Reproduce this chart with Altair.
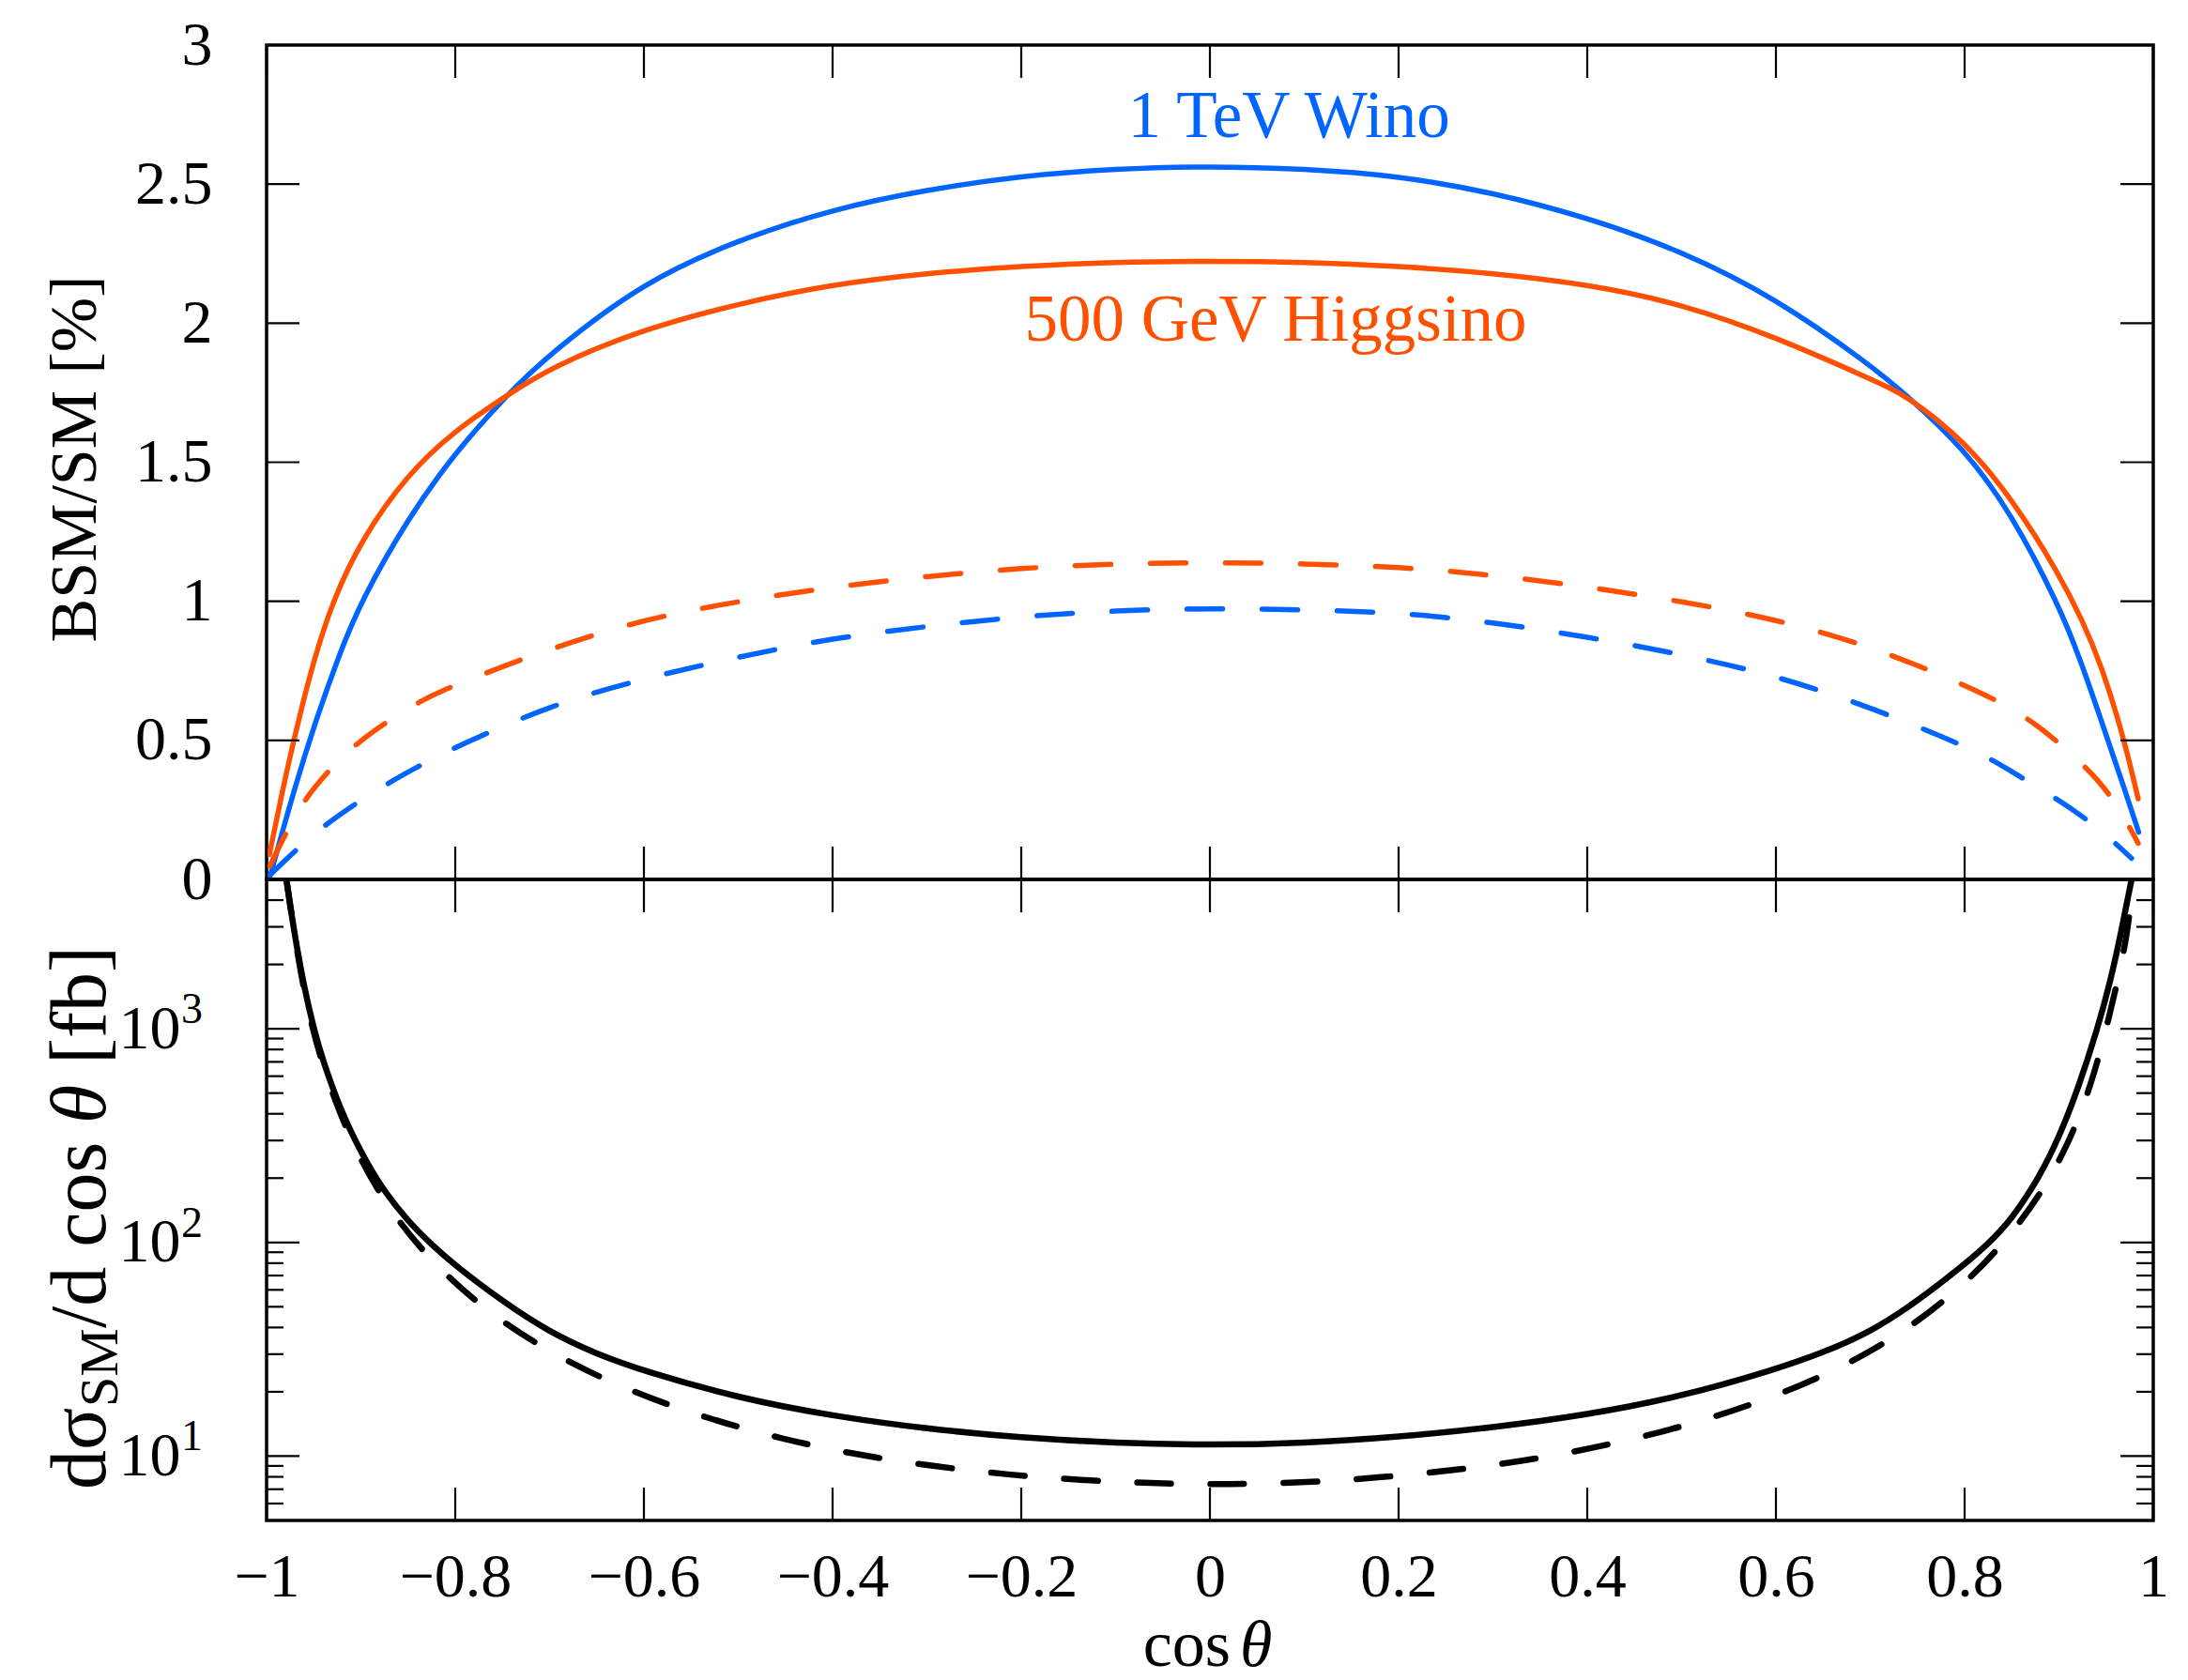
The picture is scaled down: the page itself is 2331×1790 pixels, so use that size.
import altair as alt
import pandas as pd

# ---------------- data ----------------
# top panel: BSM/SM [%]
wino_x = [-0.996, -0.985, -0.97, -0.951, -0.923, -0.9, -0.85, -0.8, -0.747, -0.7, -0.6, -0.5, -0.4,
          -0.3, -0.2, -0.1, 0.0, 0.1, 0.2, 0.3, 0.4, 0.5, 0.6, 0.7, 0.739, 0.8, 0.85, 0.9, 0.9224, 0.95,
          0.97, 0.9845]
wino_y = [0.015, 0.15, 0.33, 0.54, 0.81, 1.00, 1.30, 1.535, 1.736, 1.89, 2.15, 2.30, 2.41,
          2.48, 2.53, 2.555, 2.565, 2.555, 2.53, 2.47, 2.38, 2.26, 2.09, 1.85, 1.74, 1.547, 1.314, 0.985, 0.794,
          0.52, 0.32, 0.17]

higgs_x = [-0.997, -0.985, -0.97, -0.95, -0.93, -0.9, -0.85, -0.8, -0.747, -0.7, -0.6, -0.5, -0.4,
           -0.3, -0.2, -0.1, 0.0, 0.1, 0.2, 0.3, 0.4, 0.5, 0.6, 0.7, 0.739, 0.8, 0.85, 0.9, 0.925, 0.945,
           0.968, 0.984]
higgs_y = [0.09, 0.29, 0.52, 0.79, 1.00, 1.22, 1.46, 1.615, 1.736, 1.84, 1.98, 2.07, 2.14,
           2.18, 2.205, 2.22, 2.223, 2.22, 2.205, 2.18, 2.14, 2.07, 1.95, 1.80, 1.74, 1.576, 1.37, 1.10, 0.93,
           0.77, 0.52, 0.29]

wino_d_x = [-0.9966, -0.966, -0.935, -0.901, -0.866, -0.83, -0.8, -0.7, -0.6, -0.5, -0.4, -0.3, -0.2, -0.1,
            0.0, 0.1, 0.2, 0.3, 0.4, 0.5, 0.6, 0.7, 0.8, 0.829, 0.844, 0.878, 0.914, 0.946, 0.977]
wino_d_y = [0.015, 0.116, 0.204, 0.283, 0.357, 0.423, 0.475, 0.626, 0.723, 0.80, 0.868, 0.91, 0.946, 0.967,
            0.975, 0.97, 0.96, 0.925, 0.872, 0.81, 0.733, 0.62, 0.48, 0.43, 0.40, 0.331, 0.254, 0.173, 0.076]

higgs_d_x = [-0.9966, -0.978, -0.958, -0.931, -0.902, -0.867, -0.833, -0.8, -0.7, -0.6, -0.5, -0.4, -0.3,
             -0.2, -0.1, 0.0, 0.1, 0.2, 0.3, 0.4, 0.5, 0.6, 0.7, 0.8, 0.847, 0.881, 0.911, 0.942, 0.965, 0.984]
higgs_d_y = [0.048, 0.178, 0.297, 0.404, 0.497, 0.579, 0.649, 0.70, 0.83, 0.936, 1.00, 1.052, 1.09,
             1.12, 1.135, 1.14, 1.135, 1.124, 1.095, 1.052, 1.00, 0.936, 0.84, 0.70, 0.622, 0.545, 0.458, 0.359,
             0.25, 0.13]

# bottom panel: d sigma_SM / d cos theta [fb]
sm_x = [-0.979, -0.97, -0.96, -0.95, -0.94, -0.92, -0.9, -0.88, -0.85, -0.822, -0.8, -0.75, -0.7, -0.65,
        -0.6, -0.5, -0.4, -0.3, -0.2, -0.1, 0.0, 0.1, 0.2, 0.3, 0.4, 0.5, 0.6, 0.65, 0.7, 0.75, 0.8,
        0.8235, 0.85, 0.88, 0.9, 0.92, 0.941, 0.955, 0.965, 0.977]
sm_y = [5000, 2700, 1550, 1000, 700, 400, 265, 185, 125, 95, 78, 53, 38, 30,
        25, 18.7, 15.4, 13.4, 12.2, 11.5, 11.25, 11.5, 12.3, 13.6, 15.6, 19.0, 25.5, 30.5, 38, 53, 79,
        97, 128, 205, 310, 520, 1000, 1700, 2700, 5000]

sm_d_x = [-0.979, -0.961, -0.94, -0.9105, -0.871, -0.819, -0.757, -0.687, -0.613, -0.535, -0.456, -0.378,
          -0.295, -0.214, -0.133, -0.051, 0.0, 0.031, 0.114, 0.196, 0.278, 0.358, 0.439, 0.518, 0.595, 0.671,
          0.742, 0.806, 0.861, 0.905, 0.935, 0.956, 0.972, 0.979]
sm_d_y = [5000, 1442, 645, 293, 142, 75.5, 44, 28.4, 20, 15.1, 12.1, 10.2,
          8.98, 8.17, 7.7, 7.43, 7.4, 7.4, 7.55, 8.05, 8.77, 9.9, 11.7, 14.4, 18.7, 26,
          39.6, 66.8, 124, 252, 546, 1270, 2600, 5000]

x_tick_values = [-1, -0.8, -0.6, -0.4, -0.2, 0, 0.2, 0.4, 0.6, 0.8, 1]
top_y_ticks = [0, 0.5, 1, 1.5, 2, 2.5, 3]
log_major = [10, 100, 1000]
log_exponents = ["1", "2", "3"]
log_minor = [6, 7, 8, 9, 20, 30, 40, 50, 60, 70, 80, 90, 200, 300, 400, 500, 600, 700, 800, 900,
             2000, 3000, 4000]

annotations = pd.DataFrame({
    "x": [0.0836, 0.0697],
    "y": [2.669, 1.937],
    "label": ["1 TeV Wino", "500 GeV Higgsino"],
    "who": ["wino", "higgs"],
})

# ---------------- styling ----------------
W, HT, HB = 2010, 889, 683
FONT = "Liberation Serif"
BLUE, ORANGE = "#0064ff", "#ff5000"
TICK_MAJ, TICK_MIN = 35, 18


def df(xs, ys):
    return pd.DataFrame({"x": xs, "y": ys})


xscale = alt.Scale(domain=[-1, 1], nice=False, zero=False)
yscale_top = alt.Scale(domain=[0, 3], nice=False, zero=False)
yscale_bot = alt.Scale(type="log", domain=[5, 5000], nice=False)

top_y_axis = alt.Axis(values=top_y_ticks, format="~g", labelPadding=58)
XT = alt.X("x:Q", scale=xscale, axis=None)
YT = alt.Y("y:Q", scale=yscale_top, axis=top_y_axis)

SUP_GAP = 92  # distance from the axis to the right edge of the "10" mantissa
bot_y_axis = alt.Axis(values=log_major, labelExpr="'10'", labelPadding=SUP_GAP)
bot_x_axis = alt.Axis(values=x_tick_values, format="~g", labelPadding=28, labelFlush=False)
XB = alt.X("x:Q", scale=xscale, axis=bot_x_axis)
YB = alt.Y("y:Q", scale=yscale_bot, axis=bot_y_axis)


def curve(data, color, width, dash=None, X=XT, Y=YT):
    kw = dict(color=color, strokeWidth=width, interpolate="basis", clip=True, strokeCap="round")
    if dash:
        kw["strokeDash"] = dash
    return alt.Chart(data).mark_line(**kw).encode(x=X, y=Y)


def xticks(X, H):
    d = pd.DataFrame({"x": x_tick_values})
    up = alt.Chart(d).mark_rule(color="black", strokeWidth=2.2).encode(
        x=X, y=alt.value(0), y2=alt.value(TICK_MAJ))
    dn = alt.Chart(d).mark_rule(color="black", strokeWidth=2.2).encode(
        x=X, y=alt.value(H - TICK_MAJ), y2=alt.value(H))
    return [up, dn]


def yticks(vals, Y, length):
    d = pd.DataFrame({"y": vals})
    lft = alt.Chart(d).mark_rule(color="black", strokeWidth=2.2).encode(
        y=Y, x=alt.value(0), x2=alt.value(length))
    rgt = alt.Chart(d).mark_rule(color="black", strokeWidth=2.2).encode(
        y=Y, x=alt.value(W - length), x2=alt.value(W))
    return [lft, rgt]


def rotated(text, size, x, y, style="normal"):
    # text reads bottom-to-top, starting at (x, y)
    return alt.Chart(pd.DataFrame({"t": [text]})).mark_text(
        font=FONT, fontSize=size, angle=270, align="left", baseline="alphabetic", color="black",
        fontStyle=style
    ).encode(x=alt.value(x), y=alt.value(y), text="t:N")


# ---------------- top panel ----------------
ann = alt.Chart(annotations).mark_text(font=FONT, fontSize=71, baseline="alphabetic", align="center").encode(
    x=XT, y=YT, text="label:N",
    color=alt.Color("who:N", scale=alt.Scale(domain=["wino", "higgs"], range=[BLUE, ORANGE]), legend=None),
)

top_title = alt.Chart(pd.DataFrame({"t": ["BSM/SM [%]"]})).mark_text(
    font=FONT, fontSize=70, angle=270, align="center", baseline="middle", color="black"
).encode(x=alt.value(-203), y=alt.value(441), text="t:N")

top = alt.layer(
    curve(df(wino_x, wino_y), BLUE, 5.5),
    curve(df(higgs_x, higgs_y), ORANGE, 5.5),
    curve(df(wino_d_x, wino_d_y), BLUE, 5.5, [38, 42]),
    curve(df(higgs_d_x, higgs_d_y), ORANGE, 5.5, [38, 42]),
    *xticks(XT, HT),
    *yticks(top_y_ticks, YT, TICK_MAJ),
    ann,
    top_title,
).properties(width=W, height=HT)

# ---------------- bottom panel ----------------
FS, FSUB = 84, 58
BASE_X = -172
bot_title = [
    rotated("dσ", FS, BASE_X, 650),
    rotated("SM", FSUB, BASE_X + 13, 562),
    rotated("/d cos", FS, BASE_X, 478),
    rotated("θ", FS, BASE_X, 260, "italic"),
    rotated("[fb]", FS, BASE_X, 197),
]

# exponent of the log-axis labels (10^1, 10^2, 10^3)
sup = alt.Chart(pd.DataFrame({"y": log_major, "e": log_exponents})).mark_text(
    font=FONT, fontSize=46, align="left", baseline="alphabetic", color="black", dy=-6
).encode(x=alt.value(-SUP_GAP + 1), y=YB, text="e:N")

XT_BASE = HB + 155
xtitle = [
    alt.Chart(pd.DataFrame({"t": ["cos"]})).mark_text(font=FONT, fontSize=70, align="right", baseline="alphabetic",
                                                      color="black").encode(
        x=alt.value(1027), y=alt.value(XT_BASE), text="t:N"),
    alt.Chart(pd.DataFrame({"t": ["θ"]})).mark_text(font=FONT, fontSize=70, align="left", baseline="alphabetic",
                                                    fontStyle="italic", color="black").encode(
        x=alt.value(1037), y=alt.value(XT_BASE), text="t:N"),
]

bottom = alt.layer(
    curve(df(sm_x, sm_y), "black", 6.5, None, XB, YB),
    curve(df(sm_d_x, sm_d_y), "black", 6.5, [36, 42], XB, YB),
    *xticks(XB, HB),
    *yticks(log_major, YB, TICK_MAJ),
    *yticks(log_minor, YB, TICK_MIN),
    sup,
    *bot_title,
    *xtitle,
).properties(width=W, height=HB)

chart = alt.vconcat(top, bottom, spacing=0, bounds="flush").properties(
    padding={"left": 35, "top": 5, "right": 5, "bottom": 5},
    background="white",
).configure_view(
    stroke="black", strokeWidth=3.5
).configure_axis(
    labelFont=FONT, labelFontSize=66, labelColor="black", domain=False, ticks=False, tickSize=0,
    grid=False, title=None
)

chart.save("out.html", embed_options={"renderer": "svg", "actions": False})
